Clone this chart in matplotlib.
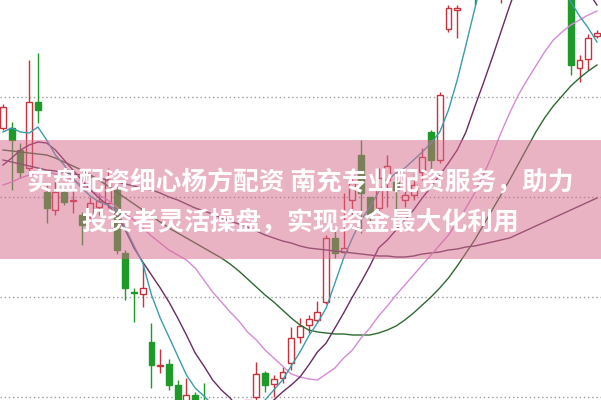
import numpy as np
import matplotlib
matplotlib.use("Agg")
import matplotlib.pyplot as plt

# candle data (price units, one per trading day)
opens = [272, 272, 250, 232, 298, 208, 190, 208, 199, 185, 183, 193, 197, 210, 147, 108, 106, 58, 34, 36,
         15, -10, 5, -5, -20, -28, -25, -33, -18, 3, 27, 16, 22, 37, 63, 75, 80, 98, 162, 148,
         200, 245, 203, 192, 220, 218, 200, 205, 228, 268, 240, 371, 390, 410, 430, 415, 440, 430, 450, 470,
         480, 470, 490, 495, 505, 480, 332, 341, 364]
closes = [293, 260, 228, 298, 290, 192, 208, 198, 200, 175, 197, 199, 220, 150, 112, 107, 112, 35, 35, 15,
          -8, 5, -10, -20, -30, -22, -35, -20, 0, 26, 15, 21, 28, 62, 74, 81, 88, 162, 147, 152,
          217, 207, 183, 222, 234, 210, 205, 215, 243, 240, 305, 392, 392, 420, 410, 440, 455, 445, 470, 480,
          470, 490, 500, 505, 500, 335, 340, 362, 367]
highs = [296, 278, 257, 340, 347, 215, 220, 212, 213, 188, 203, 207, 232, 215, 150, 112, 135, 77, 51, 41,
         20, 22, 8, 17, -12, -15, -18, -12, -5, 38, 29, 25, 33, 73, 82, 85, 99, 165, 172, 207,
         225, 260, 203, 232, 245, 225, 223, 228, 252, 270, 308, 395, 395, 430, 440, 450, 465, 455, 480, 495,
         490, 500, 510, 515, 520, 490, 345, 366, 370]
lows = [270, 210, 222, 228, 277, 177, 185, 195, 187, 155, 178, 185, 192, 146, 100, 78, 93, 12, 27, 10,
        -15, -15, -20, -25, -38, -35, -42, -38, -25, -5, 8, 3, 17, 30, 57, 67, 78, 96, 142, 147,
        185, 167, 176, 185, 193, 183, 193, 200, 220, 230, 237, 368, 362, 405, 395, 410, 430, 397, 440, 460,
        455, 460, 480, 485, 490, 325, 318, 330, 362]

# moving average lines
ma5 = [268, 272, 268, 267, 273, 260, 245, 235, 222, 212, 204, 198, 195, 190, 172, 154, 137, 105, 82, 63,
       44, 25, 12, 4, -5, -12, -18, -20, -18, -10, 0, 10, 20, 34, 48, 64, 77, 92, 117, 142,
       162, 180, 193, 208, 220, 227, 232, 240, 248, 257, 268, 290, 320, 355, 391, 425, 450, 470, 480, 485,
       480, 470, 455, 435, 415, 398, 384, 372, 358]
ma10 = [235, 242, 250, 255, 258, 257, 250, 240, 230, 220, 210, 202, 195, 185, 170, 152, 138, 125, 112, 98,
        82, 65, 47, 34, 20, 10, 2, -8, -12, -12, -8, 0, 8, 15, 23, 35, 48, 57, 72, 87,
        103, 118, 134, 152, 160, 170, 180, 190, 202, 213, 225, 237, 250, 268, 293, 317, 342, 368, 394, 418,
        438, 450, 455, 452, 445, 435, 422, 408, 395]
ma20 = [215, 218, 222, 225, 228, 228, 226, 224, 220, 215, 210, 205, 200, 193, 186, 180, 172, 164, 157, 150,
        145, 140, 132, 120, 108, 98, 88, 79, 68, 60, 50, 42, 34, 26, 23, 21, 20, 26, 32, 42,
        50, 62, 72, 84, 94, 105, 115, 125, 135, 145, 155, 165, 178, 192, 207, 225, 245, 267, 287, 305,
        320, 334, 348, 360, 368, 375, 380, 385, 389]
ma60 = [250, 249, 248, 247, 246, 245, 242, 238, 234, 230, 225, 220, 214, 208, 202, 196, 190, 184, 178, 172,
        167, 162, 157, 152, 147, 142, 136, 129, 121, 113, 105, 98, 90, 82, 75, 70, 68, 67, 66, 66,
        65, 65, 65, 67, 70, 74, 80, 87, 95, 103, 112, 122, 134, 147, 160, 175, 190, 205, 220, 236,
        252, 268, 282, 294, 304, 314, 322, 329, 335]
ma120 = [240, 238, 236, 234, 232, 230, 229, 227, 226, 225, 223, 222, 220, 218, 216, 214, 212, 210, 207, 203,
         200, 196, 192, 189, 186, 182, 179, 176, 173, 169, 165, 162, 159, 157, 154, 152, 151, 150, 149, 148,
         147, 146, 145, 144, 144, 143, 143, 144, 146, 147, 148, 150, 151, 153, 154, 156, 158, 160, 162, 166,
         170, 174, 178, 182, 186, 190, 194, 198, 202]

grid_levels = [3, 103, 203, 303]
line1 = "实盘配资细心杨方配资 南充专业配资服务，助力"
line2 = "投资者灵活操盘，实现资金最大化利用"

up_color = "#c8323c"
down_color = "#1e9a28"

fig = plt.figure(figsize=(6.01, 4.0), dpi=100)
ax = fig.add_axes([0, 0, 1, 1])
ax.set_xlim(-0.343, 68.46)
ax.set_ylim(0, 400)
ax.axis("off")

for g in grid_levels:
    ax.axhline(g, color="#9a9a9a", lw=1, ls=(0, (1, 2)), zorder=1)

x = np.arange(len(opens))
o = np.array(opens, dtype=float)
c = np.array(closes, dtype=float)
up = c >= o
cols = np.where(up, up_color, down_color)

ax.vlines(x, lows, highs, colors=cols, lw=1, zorder=2)
bottoms = np.minimum(o, c)
heights = np.maximum(np.abs(c - o), 1.5)
ax.bar(x[up], heights[up], bottom=bottoms[up], width=0.68,
       facecolor="white", edgecolor=up_color, lw=1, zorder=3)
ax.bar(x[~up], heights[~up], bottom=bottoms[~up], width=0.68,
       facecolor=down_color, edgecolor=down_color, lw=1, zorder=3)

ax.plot(x, ma120, color="#5e3c5e", lw=1, zorder=4)
ax.plot(x, ma60, color="#2d6a30", lw=1, zorder=4)
ax.plot(x, ma20, color="#d48ad8", lw=1, zorder=4)
ax.plot(x, ma10, color="#6a2a62", lw=1, zorder=4)
ax.plot(x, ma5, color="#3a9cae", lw=1, zorder=4)

# translucent banner over the chart
ax.axhspan(141, 260, color="#d7698b", alpha=0.5, lw=0, zorder=5)

font = ["Noto Sans CJK SC", "DejaVu Sans"]
fig.text(0.5, 1 - 183 / 400, line1, ha="center", va="center", color="white",
         fontsize=18.5, fontweight="bold", family=font, zorder=6)
fig.text(0.5, 1 - 222 / 400, line2, ha="center", va="center", color="white",
         fontsize=18.5, fontweight="bold", family=font, zorder=6)

fig.savefig("out.png", dpi=100)
